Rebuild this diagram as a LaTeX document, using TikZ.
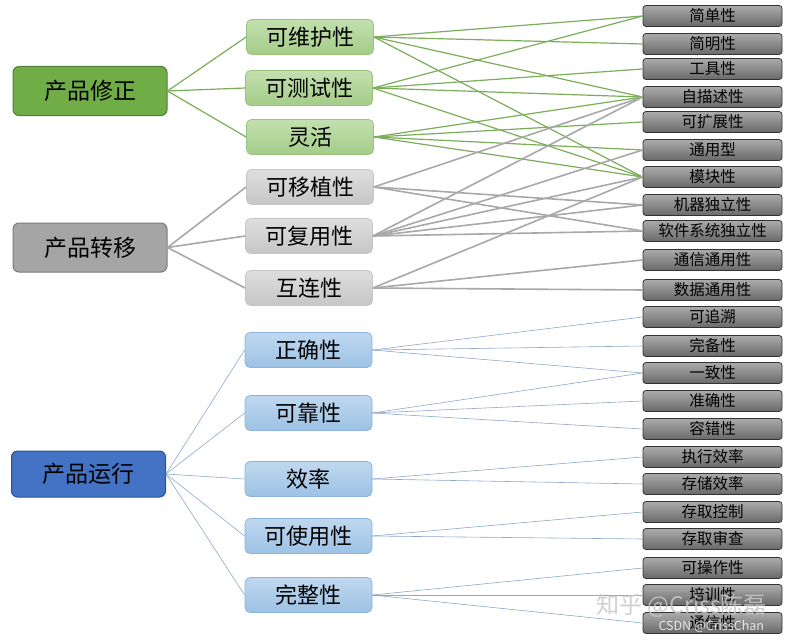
\documentclass[tikz,border=0pt]{standalone}
\usepackage{fontspec}
\newfontfamily\cjk{Noto Sans CJK SC}
\definecolor{gRoot}{HTML}{70AD47}
\definecolor{gRootD}{HTML}{507E32}
\definecolor{gTop}{HTML}{C3E0AF}
\definecolor{gBot}{HTML}{A4CC89}
\definecolor{gEdge}{HTML}{9CC27F}
\definecolor{sRoot}{HTML}{A5A5A5}
\definecolor{sRootD}{HTML}{7A7A7A}
\definecolor{sTop}{HTML}{DEDEDE}
\definecolor{sBot}{HTML}{C6C6C6}
\definecolor{bRoot}{HTML}{4472C4}
\definecolor{bRootD}{HTML}{2F528F}
\definecolor{bTop}{HTML}{C0D8EF}
\definecolor{bBot}{HTML}{9CC2E5}
\definecolor{bEdge}{HTML}{8EB3DA}
\definecolor{kTop}{HTML}{ABABAB}
\definecolor{kBot}{HTML}{696969}
\definecolor{gLn}{HTML}{7AAE58}
\definecolor{sLn}{HTML}{A8A8A8}
\definecolor{bLn}{HTML}{8DA8CA}
\tikzset{
    root/.style={rounded corners=6pt, minimum width=154pt, minimum height=49pt, inner sep=0pt, line width=1pt, font=\cjk\fontsize{23}{26}\selectfont},
    mid/.style={rounded corners=5pt, minimum width=127pt, minimum height=35pt, inner sep=0pt, line width=0.8pt, font=\cjk\fontsize{22}{25}\selectfont},
    leaf/.style={rounded corners=3pt, minimum width=139pt, minimum height=21pt, inner sep=0pt, line width=0.8pt, draw=black!80, top color=kTop, bottom color=kBot, font=\cjk\fontsize{15.5}{17}\selectfont},
    gmid/.style={mid, draw=gEdge, top color=gTop, bottom color=gBot},
    smid/.style={mid, draw=sBot, top color=sTop, bottom color=sBot},
    bmid/.style={mid, draw=bEdge, top color=bTop, bottom color=bBot},
    gline/.style={gLn, line width=1.2pt},
    sline/.style={sLn, line width=1.6pt},
    bline/.style={bLn, line width=0.6pt}
}

\begin{document}
\begin{tikzpicture}[x=1pt, y=-1pt]
    \useasboundingbox (0, 0) rectangle (792, 642);
    \node[root, draw=gRootD, fill=gRoot] (revision) at (90, 91) {产品修正};
    \node[root, draw=sRootD, fill=sRoot] (transition) at (90, 247.5) {产品转移};
    \node[root, draw=bRootD, fill=bRoot, minimum height=46pt] (operation) at (88.5, 474) {产品运行};
    \node[gmid] (maint) at (310, 37) {可维护性};
    \node[gmid] (test) at (309, 88) {可测试性};
    \node[gmid] (flex) at (310, 137) {灵活};
    \node[smid] (port) at (310, 187) {可移植性};
    \node[smid] (reuse) at (309, 236) {可复用性};
    \node[smid] (inter) at (309, 288) {互连性};
    \node[bmid] (correct) at (308.5, 350) {正确性};
    \node[bmid] (reli) at (308.5, 413) {可靠性};
    \node[bmid] (effi) at (308.5, 479) {效率};
    \node[bmid] (usab) at (308.5, 536) {可使用性};
    \node[bmid] (integ) at (308.5, 595) {完整性};
    \foreach \name/\y/\txt in {simple/16/简单性, concise/44/简明性, instr/69/工具性, selfdesc/97/自描述性,
        expand/122/可扩展性, general/150/通用型, modular/177/模块性, machine/205/机器独立性,
        softsys/231/软件系统独立性, commcom/260/通信通用性, datacom/290/数据通用性, trace/317/可追溯,
        complete/346/完备性, consist/373/一致性, accur/401/准确性, errtol/429/容错性,
        exeff/457/执行效率, storeff/484/存储效率, acctrl/512/存取控制, accaudit/539/存取审查,
        operab/568/可操作性, training/595/培训性, commun/623/通信性}
        \node[leaf] (\name) at (712.5, \y) {\txt};
    \foreach \m in {maint, test, flex}
        \draw[gline] (revision.east) -- (\m.west);
    \foreach \m in {port, reuse, inter}
        \draw[sline] (transition.east) -- (\m.west);
    \foreach \m in {correct, reli, effi, usab, integ}
        \draw[bline] (operation.east) -- (\m.west);
    \foreach \a/\b in {maint/simple, maint/concise, maint/selfdesc, maint/modular,
        test/simple, test/instr, test/selfdesc, test/modular,
        flex/selfdesc, flex/expand, flex/general, flex/modular}
        \draw[gline] (\a.east) -- (\b.west);
    \foreach \a/\b in {port/selfdesc, port/machine, port/softsys,
        reuse/selfdesc, reuse/general, reuse/modular, reuse/machine, reuse/softsys,
        inter/modular, inter/commcom, inter/datacom}
        \draw[sline] (\a.east) -- (\b.west);
    \foreach \a/\b in {correct/trace, correct/complete, correct/consist,
        reli/consist, reli/accur, reli/errtol, effi/exeff, effi/storeff,
        usab/acctrl, usab/accaudit, integ/operab, integ/training, integ/commun}
        \draw[bline] (\a.east) -- (\b.west);
    \node[text=black!22, opacity=0.85, font=\cjk\fontsize{23}{26}\selectfont, anchor=west] (mark) at (593, 606) {知乎 @Criss陈磊};
    \node[text=white, opacity=0.8, font=\cjk\fontsize{12.5}{15}\selectfont, anchor=west] (csdn) at (655, 627) {CSDN @CrissChan};
\end{tikzpicture}
\end{document}
